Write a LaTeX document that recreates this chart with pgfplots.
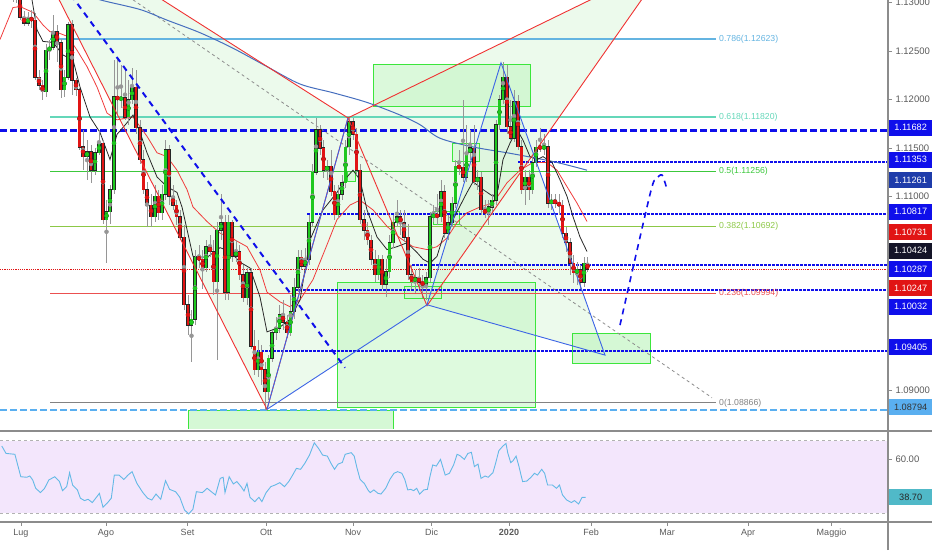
\documentclass[border=0pt]{standalone}
\usepackage{pgfplots}
\pgfplotsset{compat=1.18}
\usepackage{pgfplotstable}
\usepackage{fontspec}
\setmainfont{Liberation Sans}
\definecolor{cred}{RGB}{225,20,20}
\definecolor{cgreen}{RGB}{30,200,30}
\definecolor{wickc}{RGB}{150,150,150}
\definecolor{fibA}{RGB}{100,180,225}
\definecolor{fibB}{RGB}{100,215,185}
\definecolor{fibC}{RGB}{60,200,60}
\definecolor{fibD}{RGB}{140,200,70}
\definecolor{fibE}{RGB}{235,80,80}
\definecolor{fibF}{RGB}{130,130,130}
\definecolor{hblue}{RGB}{15,15,235}
\definecolor{lblue}{RGB}{90,175,240}
\definecolor{boxg}{RGB}{60,230,60}
\definecolor{boxf}{RGB}{195,245,195}
\definecolor{pfill}{RGB}{200,240,200}
\definecolor{pred}{RGB}{240,50,50}
\definecolor{pblue}{RGB}{60,100,230}
\definecolor{maBlue}{RGB}{70,110,190}
\definecolor{maRed}{RGB}{240,60,60}
\definecolor{maBlack}{RGB}{40,40,40}
\definecolor{rsiC}{RGB}{100,185,230}
\definecolor{rsiBg}{RGB}{243,230,252}
\definecolor{sepc}{RGB}{140,140,140}
\definecolor{labc}{RGB}{90,90,90}
\definecolor{navyb}{RGB}{30,60,170}
\definecolor{blackb}{RGB}{20,20,40}
\definecolor{tealb}{RGB}{80,185,200}
\newcommand\fibf{\fontsize{8.7}{10}\selectfont}

\pgfplotstableread{
x o h l c
1 1.1334 1.1339 1.1322 1.1324
5 1.1324 1.1334 1.1318 1.1329
9 1.1329 1.1332 1.1311 1.1313
13 1.1313 1.1318 1.1301 1.1306
16.5 1.1306 1.1320 1.1300 1.1312
20 1.1308 1.1311 1.1282 1.1285
24 1.1285 1.1292 1.1276 1.1279
28 1.1279 1.1291 1.1276 1.1284
31.5 1.1284 1.1293 1.1274 1.1282
35 1.1282 1.1289 1.1220 1.1223
39 1.1223 1.1231 1.1210 1.1215
42.5 1.1215 1.1220 1.1200 1.1208
46 1.1208 1.1257 1.1203 1.1251
49.5 1.1251 1.1262 1.1241 1.1254
53 1.1254 1.1287 1.1251 1.1270
57 1.1270 1.1277 1.1239 1.1259
61 1.1259 1.1262 1.1202 1.1210
64.5 1.1210 1.1231 1.1203 1.1223
68 1.1223 1.1280 1.1220 1.1277
72 1.1277 1.1282 1.1205 1.1220
76 1.1220 1.1222 1.1204 1.1210
79.5 1.1210 1.1212 1.1148 1.1151
83 1.1151 1.1169 1.1127 1.1141
87 1.1141 1.1158 1.1117 1.1146
91 1.1146 1.1153 1.1114 1.1127
95 1.1127 1.1150 1.1122 1.1145
99 1.1145 1.1169 1.1143 1.1155
103 1.1155 1.1158 1.1071 1.1076
106.5 1.1076 1.1096 1.1031 1.1084
110 1.1084 1.1112 1.1071 1.1107
114 1.1107 1.1241 1.1102 1.1203
117.5 1.1203 1.1241 1.1184 1.1200
121 1.1200 1.1236 1.1191 1.1202
125 1.1202 1.1231 1.1179 1.1182
128.5 1.1182 1.1220 1.1174 1.1200
132 1.1200 1.1233 1.1195 1.1213
136 1.1213 1.1231 1.1164 1.1171
140 1.1171 1.1179 1.1133 1.1138
143.5 1.1138 1.1148 1.1102 1.1107
147 1.1107 1.1115 1.1068 1.1091
151 1.1091 1.1102 1.1068 1.1079
155 1.1079 1.1112 1.1074 1.1100
158.5 1.1100 1.1107 1.1076 1.1083
162 1.1083 1.1112 1.1076 1.1102
165.5 1.1102 1.1158 1.1096 1.1148
169 1.1148 1.1153 1.1091 1.1100
173 1.1100 1.1112 1.1086 1.1091
176.5 1.1091 1.1096 1.1071 1.1079
180 1.1079 1.1086 1.1055 1.1058
184 1.1058 1.1071 1.0983 1.0988
188 1.0988 1.0998 1.0957 1.0967
191.5 1.0967 1.0983 1.0929 1.0973
195 1.0973 1.1045 1.0967 1.1037
199 1.1037 1.1050 1.1026 1.1035
202.5 1.1035 1.1045 1.1004 1.1026
206 1.1026 1.1055 1.1022 1.1048
210 1.1048 1.1060 1.1037 1.1043
213.5 1.1043 1.1055 1.0998 1.1012
217 1.1012 1.1074 1.0931 1.1065
221 1.1065 1.1102 1.1055 1.1073
225 1.1073 1.1081 1.0993 1.1001
228.5 1.1001 1.1081 1.0993 1.1073
232 1.1073 1.1076 1.1032 1.1038
236 1.1038 1.1055 1.1032 1.1043
239.5 1.1043 1.1050 1.1014 1.1019
243 1.1019 1.1029 1.0991 1.0995
247 1.0995 1.1026 1.0988 1.1021
251 1.1021 1.1026 1.0942 1.0945
254.5 1.0945 1.0962 1.0916 1.0921
258 1.0921 1.0952 1.0913 1.0939
261.5 1.0939 1.0947 1.0905 1.0921
265 1.0921 1.0929 1.0879 1.0898
268.5 1.0898 1.0936 1.0890 1.0933
272 1.0933 1.0962 1.0929 1.0959
276 1.0959 1.0975 1.0952 1.0964
279.5 1.0964 1.0988 1.0959 1.0978
283 1.0978 1.0993 1.0962 1.0970
287 1.0970 1.0978 1.0954 1.0959
290.5 1.0959 1.0998 1.0956 1.0981
294 1.0981 1.1016 1.0973 1.1006
298 1.1006 1.1045 1.1001 1.1037
301.5 1.1037 1.1045 1.1024 1.1028
305 1.1028 1.1047 1.1022 1.1035
309 1.1035 1.1081 1.1029 1.1073
312.5 1.1073 1.1133 1.1068 1.1125
316 1.1125 1.1181 1.1122 1.1169
320 1.1169 1.1174 1.1143 1.1150
323.5 1.1150 1.1158 1.1119 1.1127
327 1.1127 1.1138 1.1117 1.1131
331 1.1131 1.1148 1.1100 1.1105
334.5 1.1105 1.1112 1.1076 1.1081
338 1.1081 1.1112 1.1078 1.1102
342 1.1102 1.1122 1.1096 1.1114
345.5 1.1114 1.1158 1.1109 1.1151
349 1.1151 1.1181 1.1143 1.1177
353 1.1177 1.1181 1.1158 1.1164
356.5 1.1164 1.1171 1.1122 1.1127
360 1.1127 1.1133 1.1071 1.1076
364 1.1076 1.1086 1.1055 1.1065
367.5 1.1065 1.1074 1.1050 1.1055
371 1.1055 1.1060 1.1029 1.1035
375 1.1035 1.1045 1.1012 1.1019
378.5 1.1019 1.1040 1.1014 1.1035
382 1.1035 1.1040 1.1004 1.1009
386 1.1009 1.1035 1.0996 1.1022
389.5 1.1022 1.1060 1.1016 1.1052
393 1.1052 1.1081 1.1047 1.1073
397 1.1073 1.1096 1.1068 1.1079
400.5 1.1079 1.1086 1.1060 1.1073
404 1.1073 1.1086 1.1053 1.1058
408 1.1058 1.1071 1.1014 1.1019
411.5 1.1019 1.1029 1.1004 1.1012
415 1.1012 1.1024 1.1000 1.1016
419 1.1016 1.1026 1.1004 1.1011
422.5 1.1011 1.1019 1.0995 1.1009
426 1.1009 1.1022 1.0993 1.1016
430 1.1016 1.1084 1.1012 1.1079
433.5 1.1079 1.1091 1.1074 1.1081
437 1.1081 1.1102 1.1071 1.1079
441 1.1079 1.1117 1.1074 1.1105
444.5 1.1105 1.1112 1.1057 1.1062
448 1.1062 1.1081 1.1055 1.1073
452 1.1073 1.1099 1.1068 1.1093
455.5 1.1093 1.1138 1.1088 1.1131
459 1.1131 1.1148 1.1122 1.1130
463 1.1130 1.1200 1.1115 1.1120
466.5 1.1120 1.1174 1.1115 1.1145
470 1.1145 1.1169 1.1138 1.1150
474 1.1150 1.1174 1.1112 1.1115
477.5 1.1115 1.1127 1.1107 1.1120
481 1.1120 1.1125 1.1081 1.1086
485 1.1086 1.1096 1.1078 1.1083
488.5 1.1083 1.1096 1.1071 1.1089
492 1.1089 1.1102 1.1081 1.1096
496 1.1096 1.1179 1.1091 1.1174
499.5 1.1174 1.1205 1.1169 1.1200
503 1.1200 1.1239 1.1195 1.1223
507 1.1223 1.1236 1.1164 1.1172
510.5 1.1172 1.1200 1.1158 1.1160
514 1.1160 1.1210 1.1156 1.1198
518 1.1198 1.1205 1.1148 1.1151
521.5 1.1151 1.1158 1.1102 1.1107
525 1.1107 1.1127 1.1091 1.1120
529 1.1120 1.1127 1.1096 1.1107
532.5 1.1107 1.1143 1.1102 1.1135
536 1.1135 1.1158 1.1130 1.1151
540 1.1151 1.1171 1.1146 1.1150
544 1.1150 1.1164 1.1143 1.1151
548 1.1151 1.1158 1.1088 1.1093
551.5 1.1093 1.1102 1.1086 1.1096
555 1.1096 1.1102 1.1088 1.1093
559 1.1093 1.1102 1.1081 1.1091
562.5 1.1091 1.1096 1.1057 1.1062
566 1.1062 1.1068 1.1043 1.1052
570 1.1052 1.1057 1.1019 1.1031
573.5 1.1031 1.1040 1.1011 1.1021
577 1.1021 1.1032 1.1009 1.1024
580.5 1.1024 1.1029 1.1004 1.1011
584 1.1011 1.1037 1.1006 1.1031
587.5 1.1031 1.1037 1.1022 1.10247
}\candles

\pgfplotstableread{
x rsi
1.8 67.1
6.0 63.0
14.9 62.5
20.8 50.1
26.8 49.8
29.8 50.5
32.7 48.3
35.7 43.7
40.5 41.3
44.6 43.7
48.8 48.3
54.8 50.1
59.5 47.4
62.5 42.4
66.7 44.6
69.6 52.3
72.6 45.5
77.4 42.8
80.4 38.2
84.5 36.9
88.1 37.6
92.3 35.8
96.4 38.7
99.4 40.9
103.0 33.2
107.1 35.4
111.3 38.2
114.3 51.0
119.0 51.0
123.8 48.6
128.0 51.0
132.1 52.9
136.9 46.4
142.9 41.3
147.6 38.2
151.8 37.2
156.0 40.5
160.7 37.6
165.5 47.9
169.6 43.1
175.6 41.8
179.8 38.7
184.5 31.7
188.7 29.5
192.9 32.1
196.4 41.8
202.4 41.3
207.1 43.7
211.3 41.8
215.5 40.0
220.2 49.2
223.2 49.8
225.0 41.3
229.2 50.1
233.3 46.1
236.9 47.4
241.1 44.6
244.0 42.2
247.0 46.4
250.0 38.7
254.8 36.3
258.9 38.7
261.9 36.3
266.1 41.3
270.8 44.6
275.0 45.5
279.8 46.8
284.5 44.6
288.7 47.4
291.7 50.1
296.4 54.7
300.6 54.2
304.8 57.5
309.5 62.1
314.3 68.9
318.5 65.8
322.6 62.1
327.4 61.5
331.0 57.5
334.5 54.2
338.1 57.1
342.3 58.0
345.2 62.5
351.2 63.4
354.2 61.5
357.1 54.7
360.1 48.6
364.3 46.4
367.9 42.8
370.2 41.3
373.8 42.8
378.0 40.9
381.0 40.5
385.7 43.7
389.9 48.6
394.0 52.0
397.6 52.9
401.8 52.0
404.8 48.6
407.7 42.8
410.7 43.1
413.7 42.4
416.7 43.7
419.6 40.5
423.8 42.8
427.4 43.1
429.8 49.8
432.7 56.6
436.3 56.0
440.5 59.7
445.2 51.0
449.4 52.0
453.6 56.6
457.1 62.5
460.1 61.7
464.3 59.7
467.9 63.0
471.4 63.6
474.4 55.7
478.0 57.1
481.0 49.2
485.1 50.5
488.1 49.8
492.9 52.3
495.8 57.9
498.8 64.5
503.0 67.1
506.0 68.5
507.7 63.4
510.7 57.9
513.1 59.0
516.1 61.5
519.0 55.7
522.6 47.4
526.8 47.7
531.0 49.8
534.5 52.0
537.5 51.0
541.7 54.2
544.6 52.0
547.6 45.5
552.4 45.5
556.5 43.7
559.5 45.5
562.5 40.0
566.7 37.2
571.4 35.8
574.4 36.9
578.6 35.0
582.1 38.7
585.7 38.7
}\rsidata

\begin{document}
\begin{tikzpicture}
\useasboundingbox (0pt,0pt) rectangle (932pt,550pt);
\begin{axis}[
  at={(0pt,550pt)}, anchor=north west,
  scale only axis, width=888pt, height=428pt,
  xmin=0, xmax=888, ymin=1.08607, ymax=1.13028,
  axis line style={draw=none},
  xtick=\empty,
  ytick={1.09,1.11,1.115,1.12,1.125,1.13},
  ytick pos=right, yticklabel pos=right,
  tick align=outside, major tick length=4pt,
  tick style={draw=sepc, line width=0.6pt},
  yticklabel style={font=\fontsize{9.5}{10}\selectfont, text=labc},
  yticklabel={\pgfmathprintnumber[fixed,fixed zerofill,precision=5,assume math mode=true]{\tick}},
]
% pattern fills
\addplot[draw=none, fill=pfill, fill opacity=0.35] coordinates {(10,1.1403)(267,1.0880)(348,1.1181)} -- cycle;
\addplot[draw=none, fill=pfill, fill opacity=0.35] coordinates {(348,1.1181)(427,1.0987)(668,1.1342)} -- cycle;
\addplot[draw=none, fill=pfill, fill opacity=0.35] coordinates {(267,1.0880)(348,1.1181)(427,1.0988)} -- cycle;
\addplot[draw=none, fill=pfill, fill opacity=0.35] coordinates {(427,1.0988)(501,1.1238)(605,1.0936)} -- cycle;
% green boxes
\addplot[draw=boxg, fill=boxf, fill opacity=0.6, line width=0.9pt] coordinates {(373,1.1236)(530,1.1236)(530,1.1193)(373,1.1193)} -- cycle;
\addplot[draw=boxg, fill=boxf, fill opacity=0.4, line width=0.9pt] coordinates {(452,1.1155)(479,1.1155)(479,1.1136)(452,1.1136)} -- cycle;
\addplot[draw=boxg, fill=boxf, fill opacity=0.55, line width=0.9pt] coordinates {(337,1.1011)(535,1.1011)(535,1.0882)(337,1.0882)} -- cycle;
\addplot[draw=boxg, fill=boxf, fill opacity=0.5, line width=0.9pt] coordinates {(404,1.1007)(441,1.1007)(441,1.0995)(404,1.0995)} -- cycle;
\addplot[draw=boxg, fill=boxf, fill opacity=0.7, line width=0.9pt] coordinates {(188,1.0879)(393,1.0879)(393,1.0850)(188,1.0850)} -- cycle;
\addplot[draw=boxg, fill=boxf, fill opacity=0.7, line width=0.9pt] coordinates {(572,1.0958)(650,1.0958)(650,1.0927)(572,1.0927)} -- cycle;
\addplot[draw=boxg, fill=boxf, fill opacity=0.5, line width=0.9pt] coordinates {(347,1.1126)(355,1.1126)(355,1.1115)(347,1.1115)} -- cycle;
\addplot[draw=boxg, fill=boxf, fill opacity=0.4, line width=0.9pt] coordinates {(433,1.1084)(459,1.1084)(459,1.1071)(433,1.1071)} -- cycle;
% fib levels
\addplot[fibA, line width=2pt] coordinates {(50,1.12623)(716,1.12623)};
\addplot[fibB, line width=2pt] coordinates {(50,1.11820)(716,1.11820)};
\addplot[fibC, line width=1pt] coordinates {(50,1.11256)(716,1.11256)};
\addplot[fibD, line width=1pt] coordinates {(50,1.10692)(716,1.10692)};
\addplot[fibE, line width=1pt] coordinates {(50,1.09994)(716,1.09994)};
\addplot[fibF, line width=1pt] coordinates {(50,1.08866)(716,1.08866)};
% horizontal levels
\addplot[hblue, line width=3pt, dash pattern=on 7pt off 3pt] coordinates {(0,1.11682)(888,1.11682)};
\addplot[hblue, line width=2.2pt, dash pattern=on 2.5pt off 1.5pt] coordinates {(518,1.11353)(888,1.11353)};
\addplot[hblue, line width=2.2pt, dash pattern=on 2.5pt off 1.5pt] coordinates {(307,1.10817)(888,1.10817)};
\addplot[hblue, line width=2.2pt, dash pattern=on 2.5pt off 1.5pt] coordinates {(412,1.10287)(888,1.10287)};
\addplot[hblue, line width=2.2pt, dash pattern=on 2.5pt off 1.5pt] coordinates {(295,1.10032)(888,1.10032)};
\addplot[hblue, line width=2.2pt, dash pattern=on 2.5pt off 1.5pt] coordinates {(257,1.09405)(888,1.09405)};
\addplot[lblue, line width=2.5pt, dash pattern=on 7pt off 3pt] coordinates {(0,1.08794)(888,1.08794)};
\addplot[cred, line width=1pt, dash pattern=on 1.2pt off 1pt] coordinates {(0,1.10247)(888,1.10247)};
% gray dashed diagonal
\addplot[sepc, line width=0.8pt, dash pattern=on 3pt off 3pt] coordinates {(133,1.1303)(712,1.0892)};
% moving averages
\addplot[maBlue, line width=1pt, smooth] coordinates {(80,1.1311)(100,1.1303)(140,1.1293)(167,1.1282)(200,1.1269)(233,1.1253)(267,1.1234)(300,1.1216)(333,1.1207)(367,1.1197)(400,1.1184)(420,1.1174)(440,1.1160)(473,1.1151)(507,1.1145)(528,1.1141)(557,1.1135)(587,1.1127)};
\addplot[maRed, line width=0.8pt] coordinates {(0,1.1262)(13,1.1295)(20,1.1296)(33,1.1290)(43,1.1277)(50,1.1270)(58,1.1269)(68,1.1265)(77,1.1251)(87,1.1234)(97,1.1213)(107,1.1186)(117,1.1179)(133,1.1182)(140,1.1172)(147,1.1162)(157,1.1145)(167,1.1141)(177,1.1127)(187,1.1107)(193,1.1089)(207,1.1074)(220,1.1062)(233,1.1056)(247,1.1048)(260,1.1024)(267,1.1001)(280,1.0991)(290,1.0986)(300,1.0993)(313,1.1014)(327,1.1050)(337,1.1076)(350,1.1091)(360,1.1096)(373,1.1086)(387,1.1069)(400,1.1057)(413,1.1048)(427,1.1045)(437,1.1048)(447,1.1057)(457,1.1073)(467,1.1083)(480,1.1089)(493,1.1093)(507,1.1114)(520,1.1127)(533,1.1135)(547,1.1135)(557,1.1127)(567,1.1110)(577,1.1093)(587,1.1074)};
\addplot[maBlack, line width=0.8pt] coordinates {(20,1.1313)(32,1.1303)(37,1.1272)(43,1.1260)(53,1.1259)(63,1.1246)(73,1.1241)(80,1.1213)(90,1.1182)(100,1.1166)(110,1.1138)(117,1.1164)(127,1.1176)(133,1.1184)(140,1.1166)(147,1.1145)(157,1.1120)(167,1.1110)(177,1.1104)(182,1.1089)(193,1.1038)(207,1.1037)(220,1.1047)(230,1.1043)(240,1.1032)(250,1.1026)(260,1.0996)(267,1.0960)(280,1.0965)(290,1.0973)(300,1.0993)(310,1.1055)(323,1.1086)(337,1.1104)(347,1.1120)(353,1.1127)(360,1.1117)(367,1.1086)(377,1.1058)(387,1.1045)(397,1.1048)(407,1.1052)(417,1.1042)(423,1.1035)(430,1.1031)(437,1.1038)(443,1.1058)(453,1.1076)(467,1.1104)(473,1.1115)(483,1.1107)(493,1.1100)(498,1.1107)(503,1.1138)(510,1.1155)(517,1.1169)(523,1.1158)(530,1.1141)(537,1.1138)(543,1.1141)(552,1.1135)(560,1.1117)(567,1.1100)(573,1.1079)(580,1.1058)(587,1.1043)};
% candles: wicks
\addplot[only marks, mark=none, color=wickc, error bars/.cd, y dir=both, y explicit, error mark=none, error bar style={line width=0.8pt, color=wickc}]
  table[x=x, y expr={(\thisrow{h}+\thisrow{l})/2}, y error expr={(\thisrow{h}-\thisrow{l})/2}] {\candles};
% body outlines
\addplot[only marks, mark=none, color=black, error bars/.cd, y dir=both, y explicit, error mark=none, error bar style={line width=3.7pt, color=black!85}]
  table[x=x, y expr={(\thisrow{o}+\thisrow{c})/2}, y error expr={abs(\thisrow{c}-\thisrow{o})/2+0.00005}] {\candles};
% green bodies
\addplot[only marks, mark=none, color=cgreen, restrict y to domain=1:1.5, error bars/.cd, y dir=both, y explicit, error mark=none, error bar style={line width=2.6pt, color=cgreen}]
  table[x=x, y expr={ifthenelse(\thisrow{c}>=\thisrow{o},(\thisrow{o}+\thisrow{c})/2,9)}, y error expr={abs(\thisrow{c}-\thisrow{o})/2}] {\candles};
% red bodies
\addplot[only marks, mark=none, color=cred, restrict y to domain=1:1.5, error bars/.cd, y dir=both, y explicit, error mark=none, error bar style={line width=2.6pt, color=cred}]
  table[x=x, y expr={ifthenelse(\thisrow{c}<\thisrow{o},(\thisrow{o}+\thisrow{c})/2,9)}, y error expr={abs(\thisrow{c}-\thisrow{o})/2}] {\candles};
% harmonic pattern lines (red)
\addplot[pred, line width=0.9pt] coordinates {(10,1.1403)(267,1.0880)(348,1.1181)(427,1.0987)(668,1.1342)};
\addplot[pred, line width=0.9pt] coordinates {(10,1.1403)(348,1.1181)(668,1.1342)};
% pattern lines (blue)
\addplot[pblue, line width=0.9pt] coordinates {(267,1.0880)(348,1.1181)};
\addplot[pblue, line width=0.9pt] coordinates {(267,1.0880)(427,1.0988)(501,1.1238)(605,1.0936)(427,1.0988)};
% blue dashed diagonal and projection
\addplot[hblue, line width=2pt, dash pattern=on 6pt off 5pt] coordinates {(71,1.1308)(345,1.0923)};
\addplot[hblue, line width=1.6pt, dash pattern=on 6pt off 5pt, smooth] coordinates {(620,1.0967)(650,1.1102)(656,1.1117)(662,1.1122)(667,1.1107)};
% fib labels
\node[anchor=west, inner sep=0pt, text=fibA, font=\fibf] at (axis cs:719,1.12623) {0.786(1.12623)};
\node[anchor=west, inner sep=0pt, text=fibB, font=\fibf] at (axis cs:719,1.11820) {0.618(1.11820)};
\node[anchor=west, inner sep=0pt, text=fibC, font=\fibf] at (axis cs:719,1.11256) {0.5(1.11256)};
\node[anchor=west, inner sep=0pt, text=fibD, font=\fibf] at (axis cs:719,1.10692) {0.382(1.10692)};
\node[anchor=west, inner sep=0pt, text=fibE, font=\fibf] at (axis cs:719,1.09994) {0.236(1.09994)};
\node[anchor=west, inner sep=0pt, text=fibF, font=\fibf] at (axis cs:719,1.08866) {0(1.08866)};
% coordinates for price boxes
\coordinate (b1) at (axis cs:888,1.1171);
\coordinate (b2) at (axis cs:888,1.1138);
\coordinate (b3) at (axis cs:888,1.1117);
\coordinate (b4) at (axis cs:888,1.1084);
\coordinate (b5) at (axis cs:888,1.1063);
\coordinate (b6) at (axis cs:888,1.1044);
\coordinate (b7) at (axis cs:888,1.1025);
\coordinate (b8) at (axis cs:888,1.1005);
\coordinate (b9) at (axis cs:888,1.0986);
\coordinate (b10) at (axis cs:888,1.0944);
\coordinate (b11) at (axis cs:888,1.0882);
\end{axis}

\begin{axis}[
  at={(0pt,119pt)}, anchor=north west,
  scale only axis, width=888pt, height=90.7pt,
  xmin=0, xmax=888, ymin=25.2, ymax=75.4,
  axis line style={draw=none},
  xtick={20.8,106,187.5,266,353,431.5,509,591,667,748,831.5},
  xticklabels={Lug,Ago,Set,Ott,Nov,Dic,{\bfseries 2020},Feb,Mar,Apr,Maggio},
  xtick pos=bottom,
  ytick={60}, ytick pos=right, yticklabel pos=right,
  tick align=outside, major tick length=4pt,
  tick style={draw=sepc, line width=0.6pt},
  xticklabel style={font=\fontsize{9}{10}\selectfont, text=labc},
  yticklabel style={font=\fontsize{9.5}{10}\selectfont, text=labc},
  yticklabel={\pgfmathprintnumber[fixed,fixed zerofill,precision=2,assume math mode=true]{\tick}},
]
\addplot[draw=none, fill=rsiBg] coordinates {(0,30)(888,30)(888,70)(0,70)} -- cycle;
\addplot[draw=black!30, line width=0.8pt, dash pattern=on 3pt off 3pt] coordinates {(0,70)(888,70)};
\addplot[draw=black!30, line width=0.8pt, dash pattern=on 3pt off 3pt] coordinates {(0,30)(888,30)};
\addplot[rsiC, line width=0.9pt] table[x=x, y=rsi] {\rsidata};
\coordinate (r1) at (axis cs:888,38.7);
\end{axis}

% pane separators and price scale border
\draw[sepc, line width=2pt] (0pt,119pt) -- (932pt,119pt);
\draw[sepc, line width=2pt] (0pt,28.3pt) -- (932pt,28.3pt);
\draw[sepc, line width=1.3pt] (888pt,0pt) -- (888pt,550pt);

% price labels
\tikzset{pl/.style={anchor=west, xshift=0.7pt, minimum width=43.5pt, minimum height=16pt, inner sep=0pt, font=\fontsize{9.2}{10}\selectfont}}
\node[pl, fill=hblue, text=white] at (b1) {1.11682};
\node[pl, fill=hblue, text=white] at (b2) {1.11353};
\node[pl, fill=navyb, text=white] at (b3) {1.11261};
\node[pl, fill=hblue, text=white] at (b4) {1.10817};
\node[pl, fill=cred, text=white] at (b5) {1.10731};
\node[pl, fill=blackb, text=white] at (b6) {1.10424};
\node[pl, fill=hblue, text=white] at (b7) {1.10287};
\node[pl, fill=cred, text=white] at (b8) {1.10247};
\node[pl, fill=hblue, text=white] at (b9) {1.10032};
\node[pl, fill=hblue, text=white] at (b10) {1.09405};
\node[pl, fill=lblue, text=black!80] at (b11) {1.08794};
\node[pl, fill=tealb, text=black!85] at (r1) {38.70};
\end{tikzpicture}
\end{document}
